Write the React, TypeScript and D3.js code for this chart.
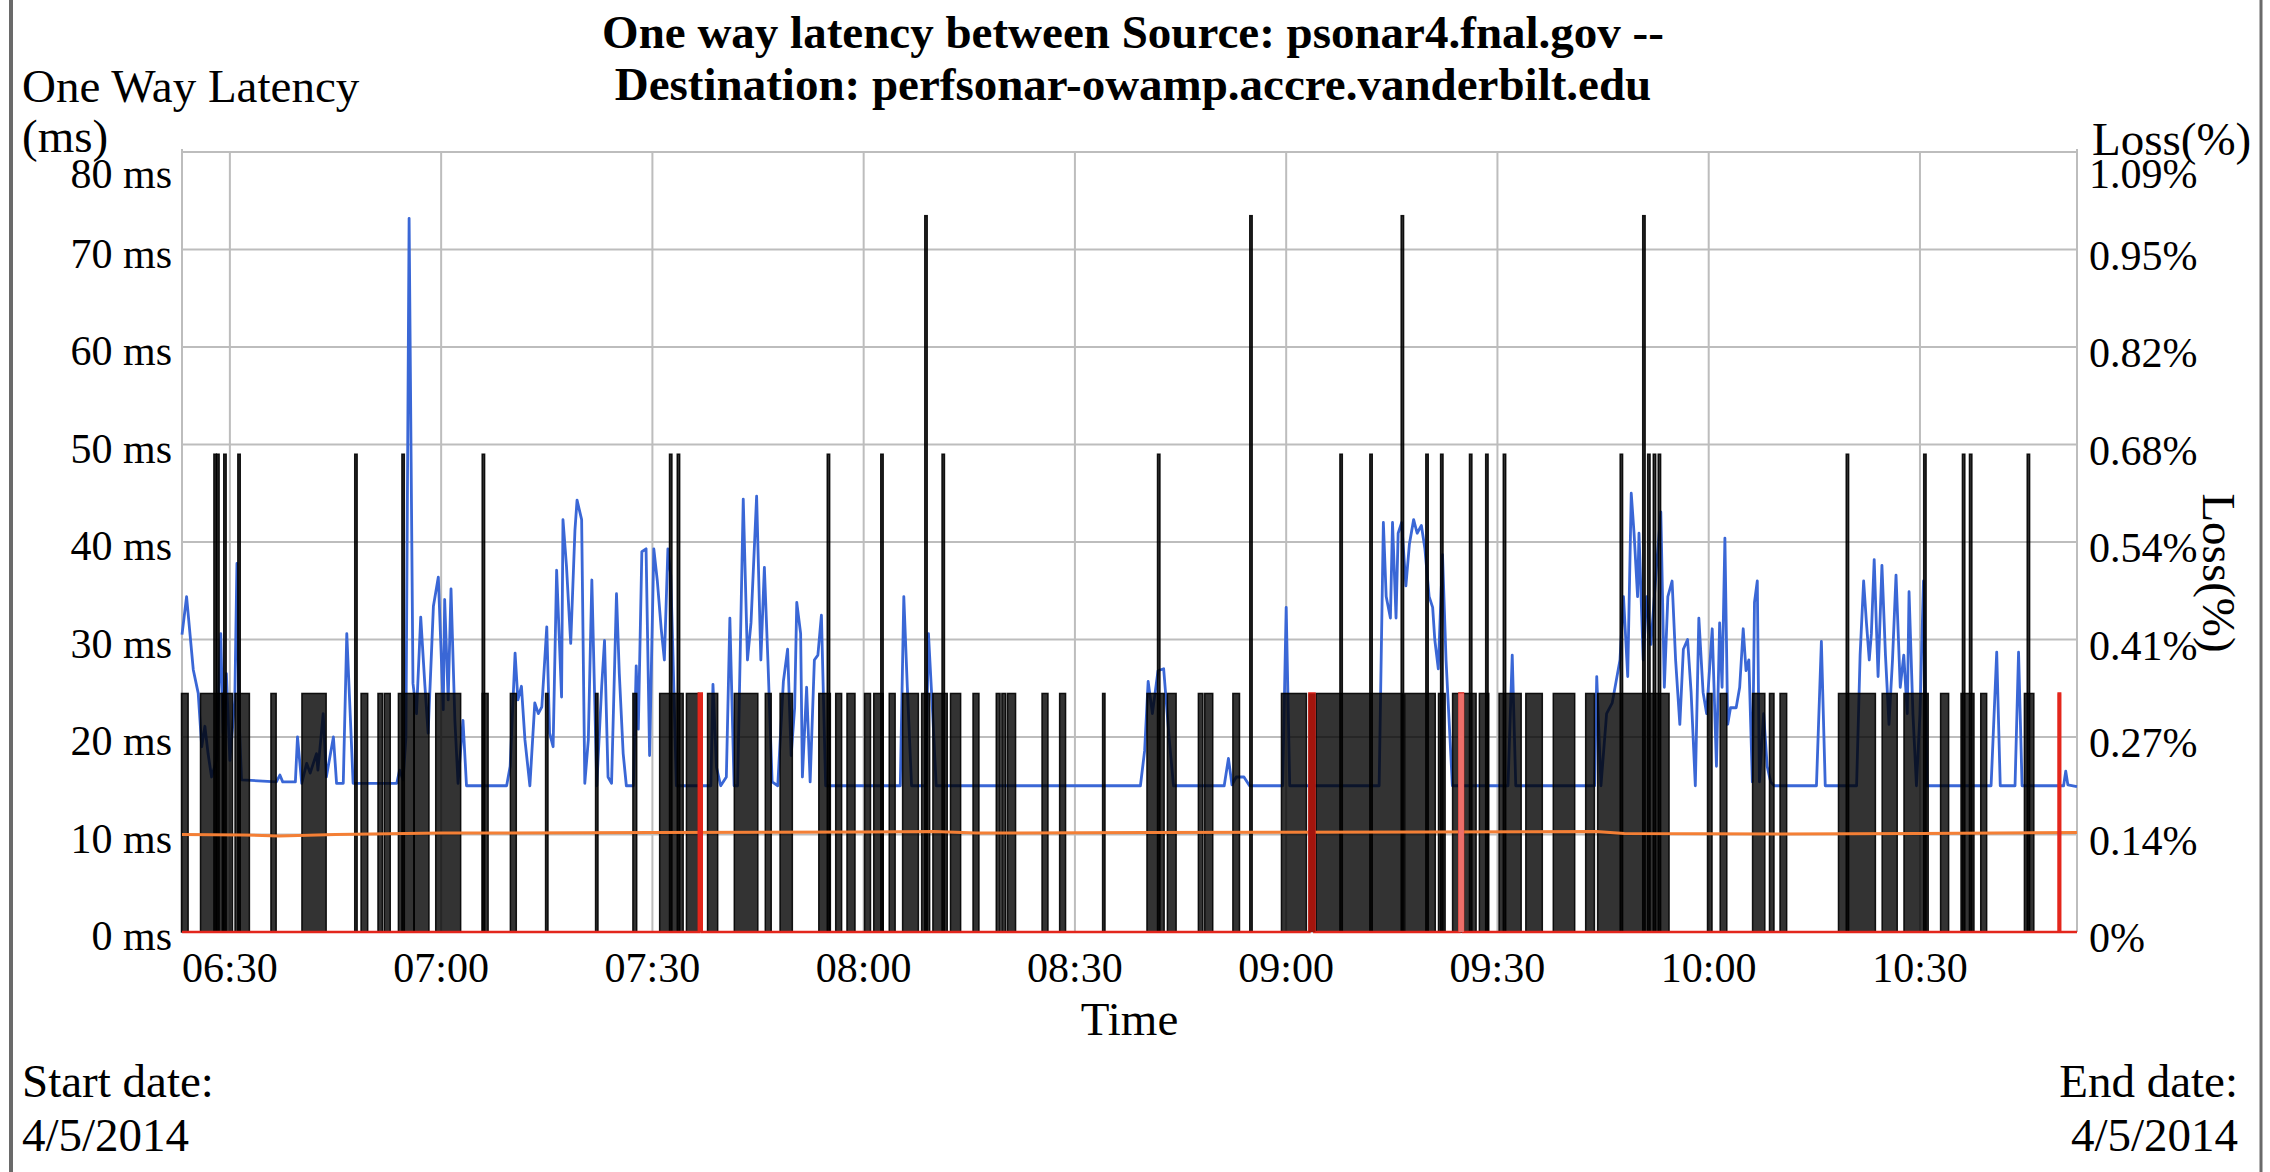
import React from "react";
import * as d3 from "d3";

// ---------- DATA (times are minutes after 06:00) ----------
const titleLines = [
  "One way latency between Source: psonar4.fnal.gov --",
  "Destination: perfsonar-owamp.accre.vanderbilt.edu",
];
const timeDomain = [23.2, 292.3];
const xTickMinutes = [30, 60, 90, 120, 150, 180, 210, 240, 270];
const xTickLabels = ["06:30", "07:00", "07:30", "08:00", "08:30", "09:00", "09:30", "10:00", "10:30"];
const latencyTicks = [0, 10, 20, 30, 40, 50, 60, 70, 80];
const latencyTickLabels = ["0 ms", "10 ms", "20 ms", "30 ms", "40 ms", "50 ms", "60 ms", "70 ms", "80 ms"];
const lossMax = 1.0889;
const lossTickLabels = ["0%", "0.14%", "0.27%", "0.41%", "0.54%", "0.68%", "0.82%", "0.95%", "1.09%"];
const startDate = "4/5/2014";
const endDate = "4/5/2014";

// one way latency (ms)
const latency: [number, number][] = [
  [23.2, 30.5], [23.85, 34.4], [24.8, 26.9], [25.5, 24.5], [26.0, 19.0], [26.45, 21.1], [26.9, 18.3], [27.4, 15.9],
  [28.1, 17.6], [28.7, 30.6], [29.05, 20.4], [29.5, 26.5], [30.0, 17.6], [30.7, 23.8], [31.0, 37.8], [31.3, 22.1],
  [31.65, 15.6], [36.6, 15.4], [37.1, 16.1], [37.5, 15.4], [39.3, 15.4], [39.6, 20.0], [40.2, 15.25], [40.9, 17.3],
  [41.4, 16.3], [42.3, 18.3], [42.5, 16.6], [43.25, 22.4], [43.7, 15.9], [44.7, 20.0], [45.15, 15.25], [46.1, 15.25],
  [46.6, 30.6], [47.0, 23.8], [47.5, 15.25], [53.7, 15.25], [54.1, 16.6], [54.6, 15.6], [55.0, 20.0], [55.45, 73.2],
  [56.0, 25.5], [56.5, 22.4], [57.1, 32.3], [57.7, 25.2], [58.15, 20.4], [58.9, 33.4], [59.6, 36.4], [60.3, 22.8],
  [60.5, 34.1], [61.0, 23.8], [61.4, 35.2], [61.95, 21.7], [62.4, 15.25], [63.1, 21.7], [63.6, 15.0], [69.3, 15.0],
  [69.8, 17.0], [70.5, 28.6], [70.9, 23.8], [71.4, 25.2], [71.9, 19.7], [72.6, 15.0], [73.3, 23.5], [73.8, 22.4],
  [74.3, 23.1], [75.0, 31.3], [75.4, 20.4], [75.9, 19.0], [76.4, 37.1], [77.1, 24.1], [77.3, 42.3], [77.8, 37.5],
  [78.4, 29.6], [79.0, 41.2], [79.3, 44.3], [79.95, 42.3], [80.4, 15.25], [80.9, 19.7], [81.4, 36.1], [82.1, 15.0],
  [82.8, 25.2], [83.2, 29.9], [83.7, 15.9], [84.2, 15.25], [84.9, 34.7], [85.3, 26.5], [85.85, 18.3], [86.3, 15.0],
  [87.3, 15.0], [87.7, 27.3], [88.0, 20.8], [88.5, 39.0], [89.1, 39.3], [89.6, 18.1], [90.2, 39.3], [90.7, 36.0],
  [91.25, 31.1], [91.7, 27.9], [92.2, 39.3], [92.6, 36.6], [92.9, 29.0], [93.4, 15.0], [98.3, 15.0], [98.6, 25.4],
  [99.1, 16.9], [99.7, 15.0], [100.5, 15.9], [101.0, 32.2], [101.6, 15.0], [102.1, 15.0], [102.9, 44.4], [103.5, 27.9],
  [104.0, 31.7], [104.8, 44.7], [105.4, 27.9], [105.9, 37.4], [106.4, 27.9], [107.0, 15.4], [107.8, 15.0], [108.6, 25.7],
  [109.2, 29.0], [109.7, 18.1], [110.2, 23.0], [110.5, 33.8], [111.05, 30.6], [111.3, 15.9], [111.9, 25.1], [112.4, 15.4],
  [113.0, 27.9], [113.5, 28.4], [114.0, 32.5], [114.6, 15.0], [125.2, 15.0], [125.7, 34.4], [126.2, 25.1], [126.8, 15.0],
  [128.8, 15.0], [129.2, 30.6], [129.8, 22.4], [130.3, 15.0], [159.3, 15.0], [159.9, 18.6], [160.4, 25.7], [161.0, 22.4],
  [161.8, 26.8], [162.6, 27.0], [163.4, 19.7], [164.0, 15.0], [171.2, 15.0], [171.8, 17.8], [172.3, 15.1], [172.9, 15.9],
  [174.0, 15.9], [174.8, 15.0], [179.5, 15.0], [180.0, 33.3], [180.5, 15.0], [193.2, 15.0], [193.8, 42.0], [194.2, 34.4],
  [194.8, 32.2], [195.1, 42.0], [195.6, 32.2], [195.9, 40.9], [196.4, 42.0], [197.0, 35.5], [197.5, 39.8], [198.1, 42.3],
  [198.6, 40.9], [199.2, 41.7], [199.7, 39.3], [200.3, 34.4], [200.8, 33.3], [201.1, 30.0], [201.6, 27.0], [202.2, 38.7],
  [202.7, 27.9], [203.6, 15.0], [211.5, 15.0], [212.1, 28.4], [212.6, 15.0], [223.8, 15.0], [224.1, 26.2], [224.7, 15.0],
  [225.5, 22.4], [226.3, 23.5], [227.4, 27.9], [227.9, 34.4], [228.5, 26.2], [229.0, 45.0], [229.4, 40.9], [229.9, 34.4],
  [230.1, 40.9], [230.7, 27.9], [231.2, 34.4], [231.8, 29.5], [232.6, 37.6], [233.2, 43.1], [233.7, 25.1], [234.2, 34.4],
  [234.8, 36.0], [235.3, 27.9], [235.9, 21.3], [236.4, 29.0], [237.0, 30.0], [237.5, 24.6], [238.1, 15.0], [238.6, 32.2],
  [239.2, 24.6], [239.7, 22.4], [240.5, 31.1], [241.1, 17.0], [241.55, 31.7], [241.9, 25.1], [242.3, 40.4], [242.7, 21.3],
  [243.1, 23.0], [243.9, 23.0], [244.4, 25.1], [244.9, 31.1], [245.3, 26.8], [245.7, 27.9], [246.2, 15.4], [246.5, 33.8],
  [246.9, 36.0], [247.2, 15.4], [247.8, 22.4], [248.3, 17.0], [248.8, 15.4], [249.3, 15.0], [255.3, 15.0], [256.0, 29.8],
  [256.55, 15.0], [261.0, 15.0], [261.5, 28.4], [262.0, 36.0], [262.4, 31.7], [262.8, 27.9], [263.1, 30.6], [263.5, 38.2],
  [264.05, 26.2], [264.6, 37.6], [265.1, 28.4], [265.6, 21.3], [266.1, 27.9], [266.6, 36.6], [267.2, 25.1], [267.7, 28.4],
  [268.2, 22.4], [268.45, 34.9], [269.0, 22.4], [269.5, 15.0], [270.0, 22.4], [270.5, 36.0], [271.0, 15.0], [280.1, 15.0],
  [280.9, 28.7], [281.4, 15.0], [283.5, 15.0], [284.0, 28.7], [284.5, 15.0], [290.4, 15.0], [290.7, 16.5], [291.0, 15.1],
  [292.3, 14.9],
];

// minimum latency (ms)
const minLatency: [number, number][] = [
  [23.2, 10.0], [32, 9.95], [37, 9.85], [45, 10.0], [60, 10.15], [90, 10.2], [120, 10.25], [130, 10.3], [136, 10.15],
  [160, 10.2], [200, 10.25], [224, 10.3], [228, 10.1], [250, 10.05], [270, 10.1], [292.3, 10.2],
];

// loss (%) runs: [start minute, end minute, loss %]
const lossRuns: [number, number, number][] = [
  [23.3, 23.9, 0.333], [26.0, 28.9, 0.333], [27.9, 27.9, 0.667], [28.3, 28.3, 0.667], [29.1, 30.2, 0.333],
  [29.3, 29.3, 0.667], [30.9, 32.6, 0.333], [31.3, 31.3, 0.667], [36.0, 36.4, 0.333], [40.4, 43.5, 0.333],
  [47.9, 47.9, 0.667], [48.8, 49.4, 0.333], [51.2, 51.5, 0.333], [52.1, 52.6, 0.333], [54.1, 56.0, 0.333],
  [54.6, 54.6, 0.667], [56.3, 58.1, 0.333], [59.4, 62.6, 0.333], [66.0, 66.0, 0.667], [66.0, 66.5, 0.333],
  [70.0, 70.5, 0.333], [75.0, 75.0, 0.333], [82.1, 82.1, 0.333], [87.4, 87.6, 0.333],
  [91.2, 94.2, 0.333], [92.6, 92.6, 0.667], [93.7, 93.7, 0.667], [95.0, 96.4, 0.333], [98.0, 99.1, 0.333],
  [101.8, 104.8, 0.333], [106.2, 106.7, 0.333], [108.3, 109.7, 0.333], [113.8, 115.1, 0.333], [115.0, 115.0, 0.667],
  [116.2, 116.7, 0.333], [117.8, 118.6, 0.333], [120.3, 120.8, 0.333], [121.6, 122.6, 0.333], [122.6, 122.6, 0.667],
  [123.8, 124.3, 0.333], [125.7, 127.6, 0.333], [128.4, 129.2, 0.333], [128.85, 128.85, 1.0], [130.0, 131.7, 0.333],
  [131.3, 131.3, 0.667], [132.5, 133.6, 0.333], [135.7, 136.2, 0.333], [139.0, 139.2, 0.333], [139.8, 140.0, 0.333],
  [140.6, 141.4, 0.333], [145.5, 146.0, 0.333], [148.0, 148.5, 0.333], [154.1, 154.1, 0.333], [160.4, 162.5, 0.333],
  [161.9, 161.9, 0.667], [163.3, 164.2, 0.333],
  [167.7, 168.0, 0.333], [168.6, 169.4, 0.333], [172.6, 173.2, 0.333], [175.0, 175.0, 1.0], [179.5, 182.7, 0.333],
  [184.4, 196.4, 0.333], [187.8, 187.8, 0.667], [192.05, 192.05, 0.667], [196.5, 196.5, 1.0], [197.0, 201.0, 0.333],
  [200.0, 200.0, 0.667], [201.8, 202.4, 0.333], [202.1, 202.1, 0.667], [203.8, 206.8, 0.333], [206.2, 206.2, 0.667],
  [207.6, 208.6, 0.333], [208.5, 208.5, 0.667], [210.4, 213.2, 0.333], [211.0, 211.0, 0.667], [214.2, 216.2, 0.333],
  [218.1, 220.8, 0.333], [222.7, 223.6, 0.333], [224.4, 234.2, 0.333], [227.6, 227.6, 0.667], [230.8, 230.8, 1.0],
  [231.5, 231.5, 0.667], [232.3, 232.3, 0.667], [233.0, 233.0, 0.667], [240.0, 240.3, 0.333], [241.8, 242.4, 0.333],
  [246.4, 247.8, 0.333], [248.8, 249.1, 0.333], [250.3, 250.9, 0.333], [258.6, 263.5, 0.333], [259.7, 259.7, 0.667],
  [264.8, 266.6, 0.333], [267.9, 271.0, 0.333], [270.7, 270.7, 0.667], [273.1, 273.9, 0.333], [276.0, 277.5, 0.333],
  [276.2, 276.2, 0.667], [277.2, 277.2, 0.667], [278.8, 279.3, 0.333], [285.0, 286.0, 0.333], [285.4, 285.4, 0.667],
];

// second loss series (red): [start minute, end minute, loss %]
const lossRunsRed: [number, number, number][] = [
  [96.6, 97.0, 0.333], [183.3, 184.0, 0.333], [204.6, 205.1, 0.333], [289.7, 289.9, 0.333],
];
const redTones = ["#e3261c", "#a3150d", "#ec6f6a", "#e3261c"];

// ---------- CHART ----------
const W = 2270;
const H = 1172;
const plot = { left: 182, right: 2077, top: 152, bottom: 932 };
const FONT = "'Liberation Serif', 'Times New Roman', Times, serif";

export default function App() {
  const x = d3.scaleLinear().domain(timeDomain).range([plot.left, plot.right]);
  const yLat = d3.scaleLinear().domain([0, 80]).range([plot.bottom, plot.top]);
  const yLoss = d3.scaleLinear().domain([0, lossMax]).range([plot.bottom, plot.top]);

  const latLine = d3
    .line<[number, number]>()
    .x((d) => x(d[0]))
    .y((d) => yLat(d[1]));

  const redPts: [number, number][] = [[timeDomain[0], 0]];
  lossRunsRed.forEach(([s, e, v]) => {
    redPts.push([s, 0], [s, v], [e, v], [e, 0]);
  });
  redPts.push([timeDomain[1], 0]);
  const lossLine = d3
    .line<[number, number]>()
    .x((d) => x(d[0]))
    .y((d) => yLoss(d[1]));

  const gridColor = "#bdbdbd";

  return (
    <svg
      width={W}
      height={H}
      style={{ position: "absolute", left: 0, top: 0, background: "#fff" }}
      fontFamily={FONT}
    >
      <rect x={0} y={0} width={W} height={H} fill="#fff" />
      {/* frame */}
      <line x1={11} x2={11} y1={0} y2={H} stroke="#6a6a6a" strokeWidth={4} />
      <line x1={2261} x2={2261} y1={0} y2={H} stroke="#6a6a6a" strokeWidth={3} />

      {/* title */}
      {titleLines.map((t, i) => (
        <text key={t} x={1133} y={48 + i * 52} textAnchor="middle" fontWeight="bold" fontSize={47}>
          {t}
        </text>
      ))}

      {/* grid */}
      {latencyTicks.map((t) => (
        <line key={"h" + t} x1={plot.left} x2={plot.right} y1={yLat(t)} y2={yLat(t)} stroke={gridColor} strokeWidth={2} />
      ))}
      {xTickMinutes.map((m) => (
        <line key={"v" + m} x1={x(m)} x2={x(m)} y1={plot.top} y2={plot.bottom} stroke={gridColor} strokeWidth={2} />
      ))}
      <line x1={plot.left} x2={plot.left} y1={plot.top - 3} y2={plot.bottom} stroke={gridColor} strokeWidth={2} />
      <line x1={plot.right} x2={plot.right} y1={plot.top - 3} y2={plot.bottom} stroke={gridColor} strokeWidth={2} />

      {/* latency */}
      <path d={latLine(latency) || ""} fill="none" stroke="#3a67d6" strokeWidth={2.8} strokeLinejoin="round" />

      {/* loss runs */}
      {lossRuns.map(([s, e, v], i) => {
        const x0 = x(s);
        const x1 = x(e);
        return (
          <rect
            key={"l" + i}
            x={x0 - 1.2}
            width={x1 - x0 + 2.4}
            y={yLoss(v)}
            height={yLoss(0) - yLoss(v)}
            fill="#000"
            fillOpacity={0.8}
            stroke="#000"
            strokeOpacity={0.9}
            strokeWidth={1.5}
          />
        );
      })}

      {/* min latency */}
      <path d={latLine(minLatency) || ""} fill="none" stroke="#f47f35" strokeWidth={3} />

      {/* red loss series */}
      <path d={lossLine(redPts) || ""} fill="none" stroke="#e3261c" strokeWidth={2.6} />
      {lossRunsRed.map(([s, e, v], i) => (
        <rect
          key={"r" + i}
          x={x(s) - 1}
          width={x(e) - x(s) + 2}
          y={yLoss(v)}
          height={yLoss(0) - yLoss(v)}
          fill={redTones[i]}
        />
      ))}

      {/* left ticks */}
      {latencyTicks.map((t, i) => (
        <text
          key={"lt" + t}
          x={172}
          y={t === 80 ? yLat(t) + 36 : yLat(t) + 18}
          textAnchor="end"
          fontSize={42}
        >
          {latencyTickLabels[i]}
        </text>
      ))}
      {/* right ticks */}
      {latencyTicks.map((t, i) => (
        <text
          key={"rt" + t}
          x={2089}
          y={t === 80 ? yLoss((t / 80) * lossMax) + 36 : yLoss((t / 80) * lossMax) + 20}
          textAnchor="start"
          fontSize={42}
        >
          {lossTickLabels[i]}
        </text>
      ))}
      {/* x ticks */}
      {xTickMinutes.map((m, i) => (
        <text key={"xt" + m} x={x(m)} y={982} textAnchor="middle" fontSize={42}>
          {xTickLabels[i]}
        </text>
      ))}

      {/* axis titles */}
      <text x={22} y={102} fontSize={47}>One Way Latency</text>
      <text x={22} y={152} fontSize={47}>(ms)</text>
      <text x={2092} y={155} fontSize={47}>Loss(%)</text>
      <text transform="translate(2203,573) rotate(90)" textAnchor="middle" fontSize={47}>
        Loss(%)
      </text>
      <text x={(plot.left + plot.right) / 2} y={1035} textAnchor="middle" fontSize={47}>
        Time
      </text>

      {/* dates */}
      <text x={22} y={1097} fontSize={47}>Start date:</text>
      <text x={22} y={1151} fontSize={47}>{startDate}</text>
      <text x={2238} y={1097} fontSize={47} textAnchor="end">End date:</text>
      <text x={2238} y={1151} fontSize={47} textAnchor="end">{endDate}</text>
    </svg>
  );
}
